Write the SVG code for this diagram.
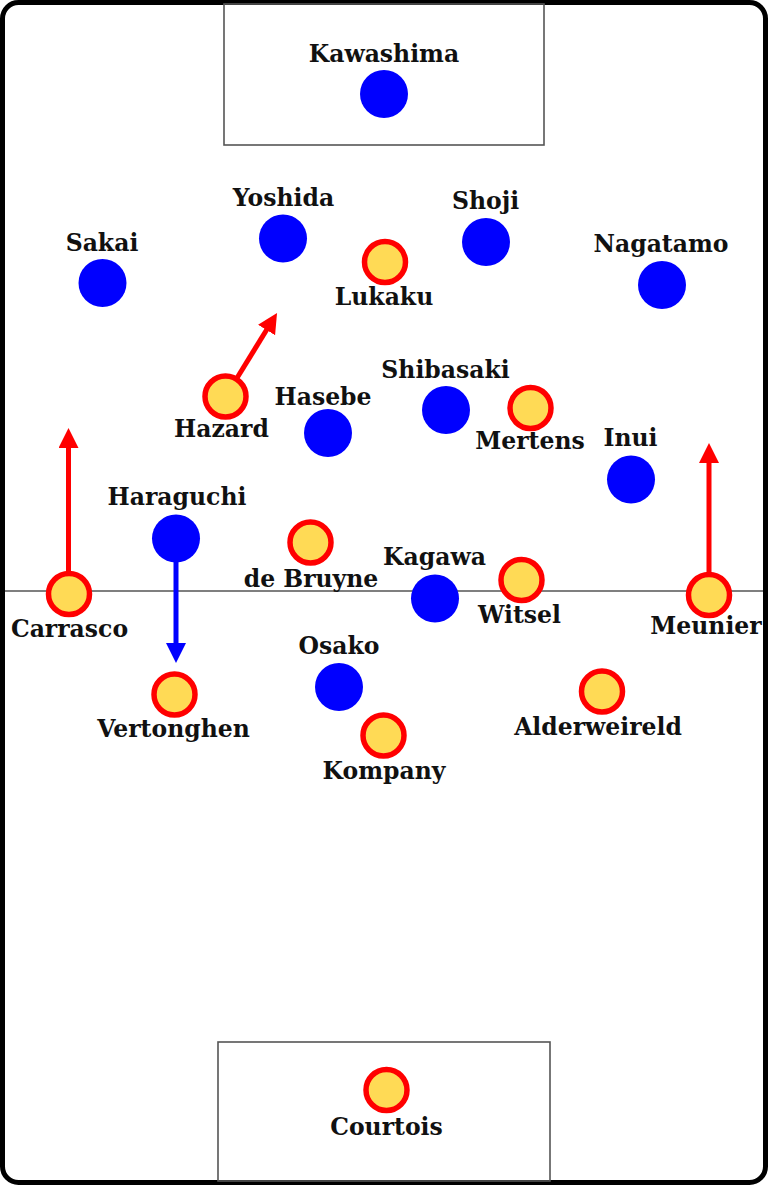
<svg xmlns="http://www.w3.org/2000/svg" width="768" height="1185" viewBox="0 0 768 1185">
<style>
.pitch{fill:#fff;stroke:#000;stroke-width:5}
.box{fill:none;stroke:#555;stroke-width:1.6}
.line{stroke:#555;stroke-width:1.6}
.jp{fill:#0000ff}
.be{fill:#ffda55;stroke:#ff0000;stroke-width:5.5}
text{font-family:"DejaVu Serif",Georgia,serif;font-weight:bold;font-size:23.5px;fill:#111;text-anchor:middle}
.ar{stroke:#ff0000;stroke-width:5;fill:none;marker-end:url(#ah-red)}
.ab{stroke:#0000ff;stroke-width:5;fill:none;marker-end:url(#ah-blue)}
</style>
<defs>
<marker id="ah-red" markerUnits="userSpaceOnUse" viewBox="0 0 20 20" markerWidth="20" markerHeight="20" refX="2" refY="10" orient="auto"><path d="M0,0 L20,10 L0,20 z" fill="#ff0000"/></marker>
<marker id="ah-blue" markerUnits="userSpaceOnUse" viewBox="0 0 20 20" markerWidth="20" markerHeight="20" refX="2" refY="10" orient="auto"><path d="M0,0 L20,10 L0,20 z" fill="#0000ff"/></marker>
</defs>
<g id="pitch">
<rect class="pitch" x="2.5" y="2.5" width="763" height="1180" rx="16"/>
<line class="line" x1="5" y1="591" x2="763" y2="591"/>
<rect class="box" x="224" y="4" width="320" height="141"/>
<rect class="box" x="218" y="1042" width="332" height="139"/>
</g>
<g id="connectors">
<line class="ar" x1="68.5" y1="571" x2="68.5" y2="446"/>
<line class="ar" x1="709" y1="572" x2="709" y2="461"/>
<line class="ar" x1="237" y1="378" x2="267.6" y2="328.3"/>
<line class="ab" x1="176" y1="561" x2="176" y2="645"/>
</g>
<g id="kawashima"><circle class="jp" cx="384" cy="94" r="24"/><text x="384" y="62">Kawashima</text></g>
<g id="yoshida"><circle class="jp" cx="283" cy="238.5" r="24"/><text x="283.5" y="206">Yoshida</text></g>
<g id="shoji"><circle class="jp" cx="486" cy="242" r="24"/><text x="485.5" y="209">Shoji</text></g>
<g id="sakai"><circle class="jp" cx="102.5" cy="283" r="24"/><text x="102" y="251">Sakai</text></g>
<g id="nagatamo"><circle class="jp" cx="662" cy="285" r="24"/><text x="661" y="252">Nagatamo</text></g>
<g id="lukaku"><circle class="be" cx="385" cy="262" r="20.5"/><text x="384" y="305">Lukaku</text></g>
<g id="hazard"><circle class="be" cx="225.5" cy="396.5" r="20.5"/><text x="221.5" y="437">Hazard</text></g>
<g id="hasebe"><circle class="jp" cx="328" cy="433" r="24"/><text x="323" y="405">Hasebe</text></g>
<g id="shibasaki"><circle class="jp" cx="446" cy="410" r="24"/><text x="445.5" y="378">Shibasaki</text></g>
<g id="mertens"><circle class="be" cx="530.5" cy="408" r="20.5"/><text x="530" y="449">Mertens</text></g>
<g id="inui"><circle class="jp" cx="631" cy="479.5" r="24"/><text x="630.5" y="446">Inui</text></g>
<g id="haraguchi"><circle class="jp" cx="176" cy="538.5" r="24"/><text x="177" y="505">Haraguchi</text></g>
<g id="debruyne"><circle class="be" cx="310.5" cy="542.5" r="20.5"/><text x="311" y="587">de Bruyne</text></g>
<g id="kagawa"><circle class="jp" cx="435" cy="598.5" r="24"/><text x="434.5" y="565">Kagawa</text></g>
<g id="witsel"><circle class="be" cx="521.5" cy="580" r="20.5"/><text x="519.5" y="623">Witsel</text></g>
<g id="carrasco"><circle class="be" cx="69" cy="594" r="20.5"/><text x="69.5" y="637">Carrasco</text></g>
<g id="meunier"><circle class="be" cx="709" cy="595" r="20.5"/><text x="706" y="634">Meunier</text></g>
<g id="osako"><circle class="jp" cx="339" cy="687" r="24"/><text x="339" y="654">Osako</text></g>
<g id="vertonghen"><circle class="be" cx="174.5" cy="694.5" r="20.5"/><text x="173.5" y="737">Vertonghen</text></g>
<g id="alderweireld"><circle class="be" cx="602" cy="691.5" r="20.5"/><text x="598" y="735">Alderweireld</text></g>
<g id="kompany"><circle class="be" cx="383.5" cy="735.5" r="20.5"/><text x="384" y="779">Kompany</text></g>
<g id="courtois"><circle class="be" cx="386.5" cy="1090" r="20.5"/><text x="386.5" y="1135">Courtois</text></g>
</svg>
